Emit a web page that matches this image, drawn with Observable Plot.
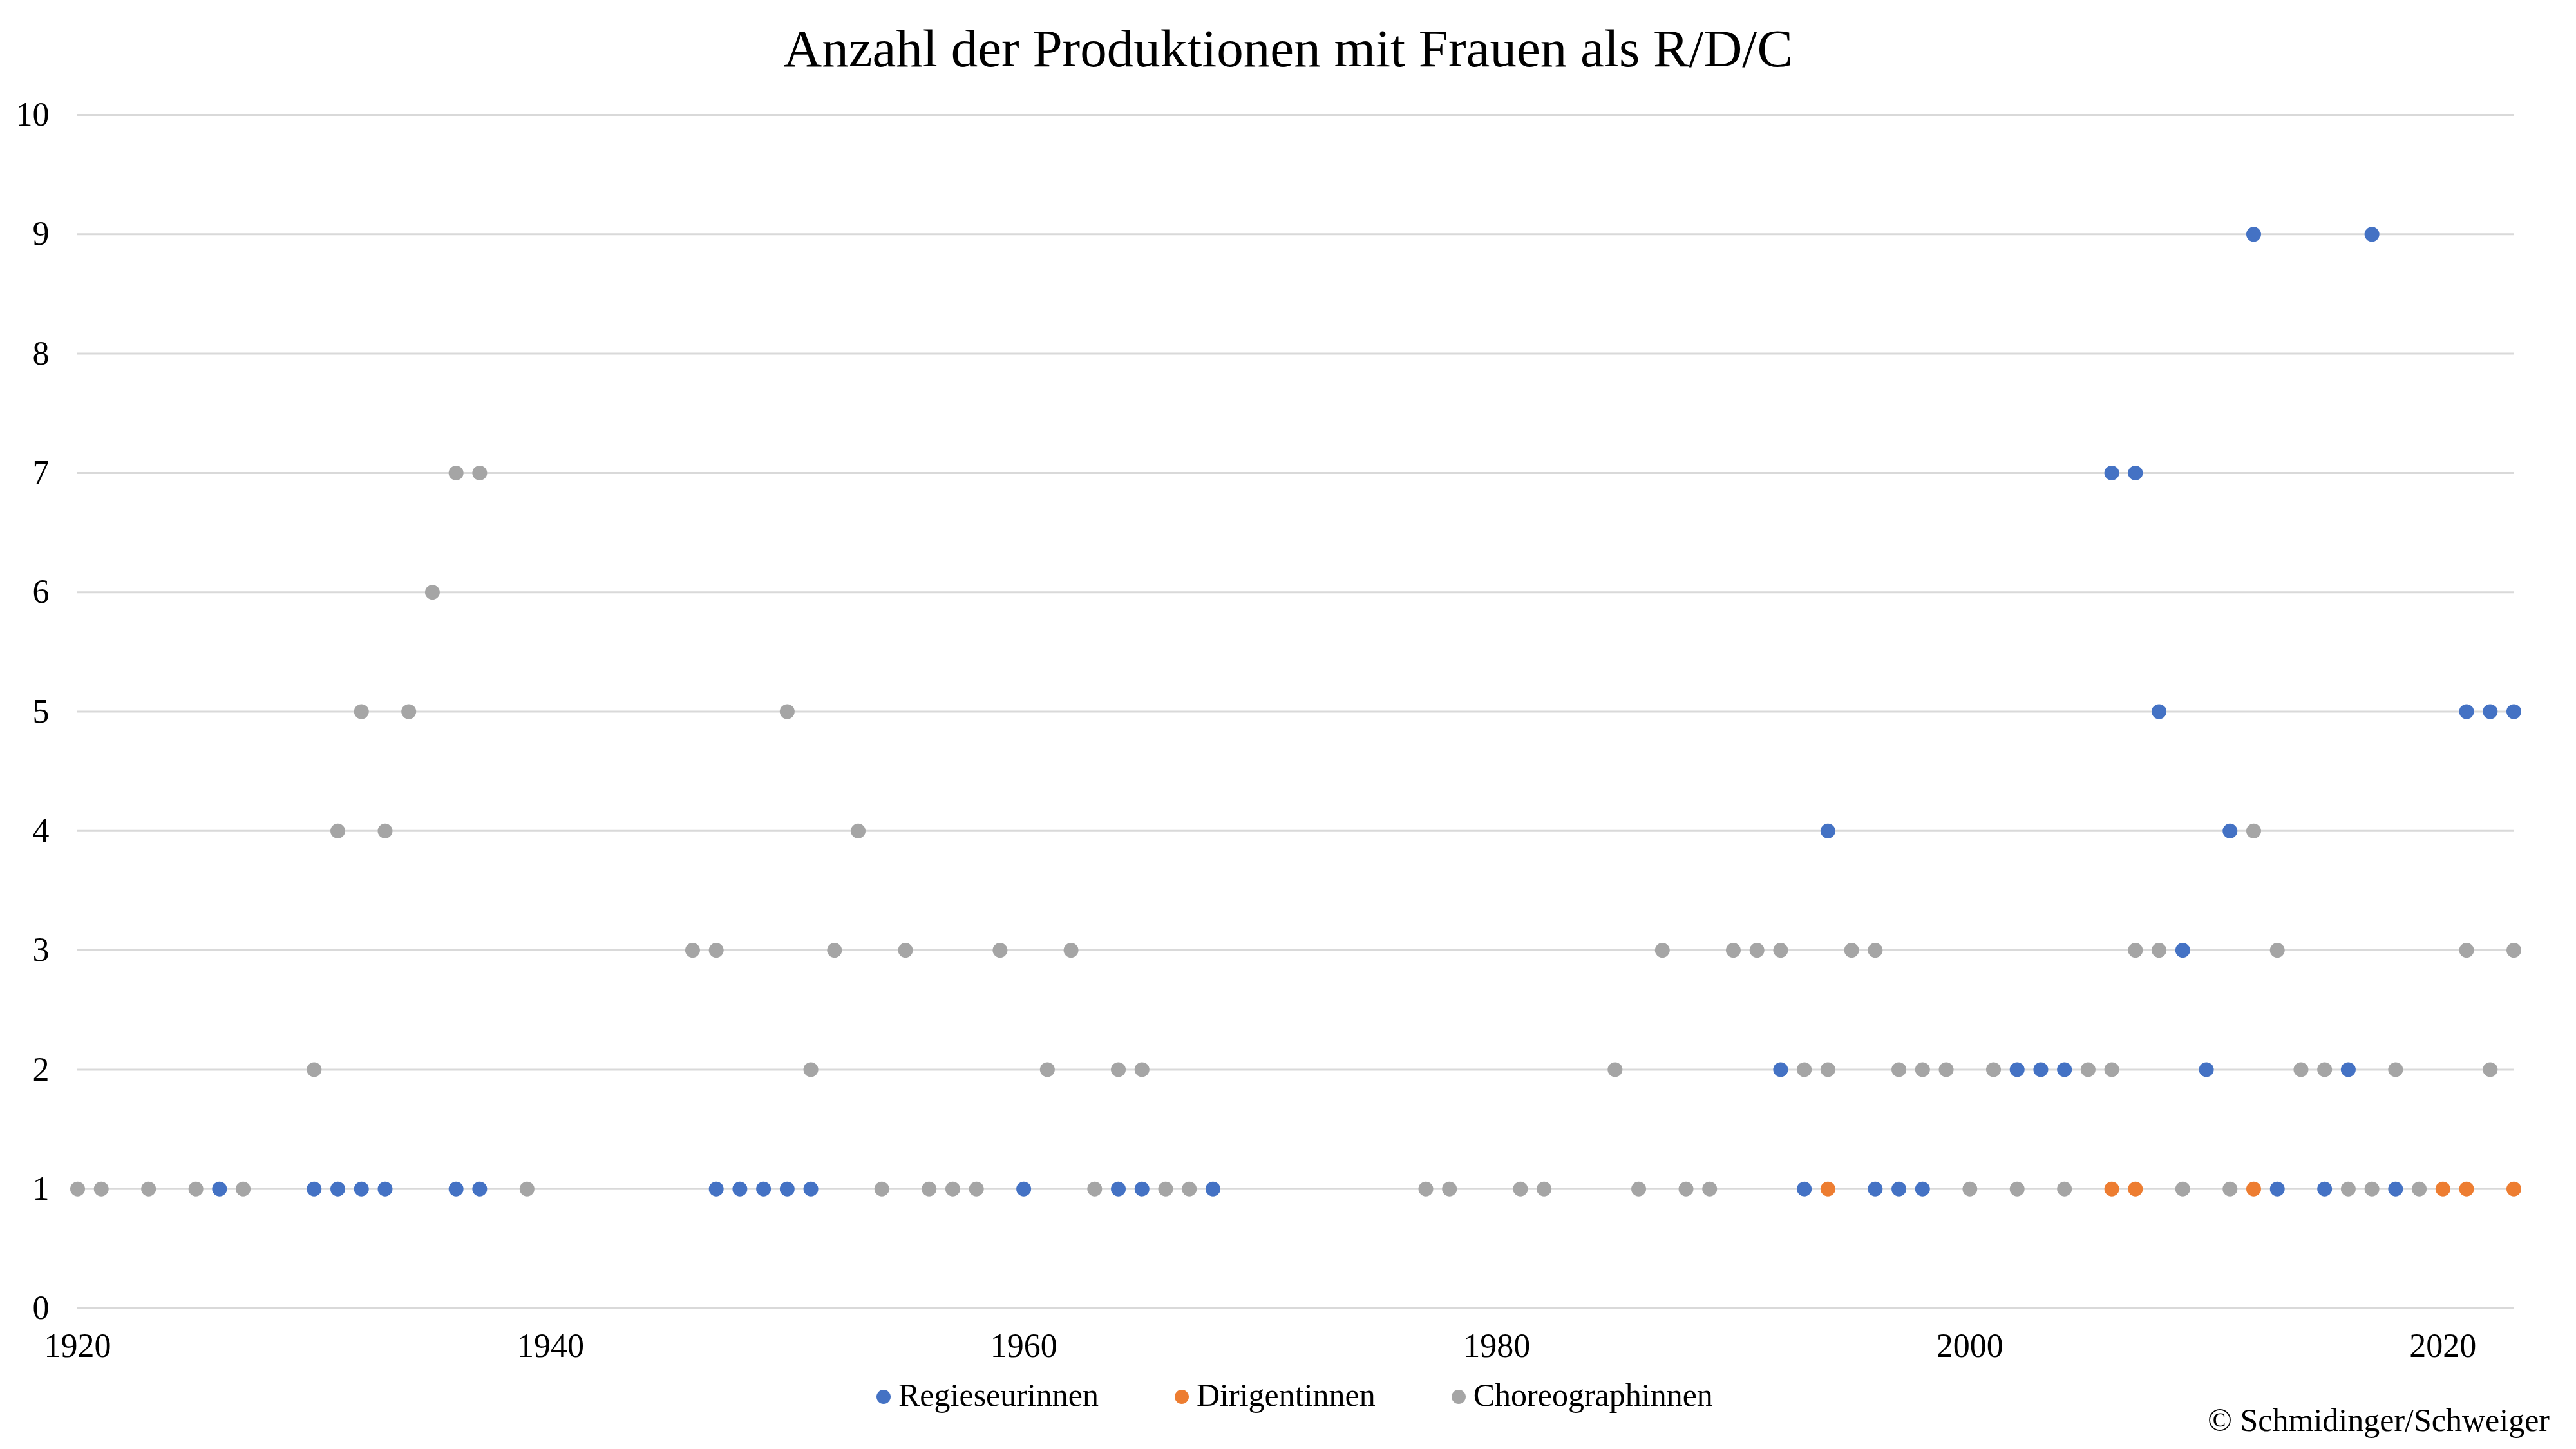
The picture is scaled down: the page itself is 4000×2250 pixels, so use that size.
<!DOCTYPE html>
<html>
<head>
<meta charset="utf-8">
<script src="https://cdn.jsdelivr.net/npm/d3@7"></script>
<script src="https://cdn.jsdelivr.net/npm/@observablehq/plot@0.6"></script>
<style>
  html, body { margin: 0; padding: 0; background: #fff; }
  #wrap { position: relative; width: 4000px; height: 2250px; background: #fff; font-family: "Liberation Serif", "Times New Roman", serif; color: #000; }
  #title { position: absolute; left: 0; width: 4000px; top: 34px; text-align: center; font-size: 83px; line-height: 1; white-space: nowrap; }
  #chart { position: absolute; left: 0; top: 130px; }
  #legend { position: absolute; left: 1361px; top: 2141px; display: flex; align-items: center; font-size: 50px; line-height: 1; white-space: nowrap; }
  .item { display: flex; align-items: center; margin-right: 118px; }
  .sw { width: 22px; height: 22px; border-radius: 50%; margin-right: 12px; margin-top: 6px; }
  #caption { position: absolute; right: 41px; top: 2180px; font-size: 50px; line-height: 1; white-space: nowrap; }
</style>
</head>
<body>
<div id="wrap">
  <div id="title"></div>
  <div id="chart"></div>
  <div id="legend"></div>
  <div id="caption"></div>
</div>
<script>
// ---- Data ----
const titel = "Anzahl der Produktionen mit Frauen als R/D/C";
const quelle = "© Schmidinger/Schweiger";
const serien = ["Regieseurinnen", "Dirigentinnen", "Choreographinnen"];
const farben = ["#4472C4", "#ED7D31", "#A5A5A5"];

const regieJahre  = [1926,1930,1931,1932,1933,1936,1937,1947,1948,1949,1950,1951,1960,1964,1965,1968,1992,1993,1994,1996,1997,1998,2002,2003,2004,2006,2007,2008,2009,2010,2011,2012,2013,2015,2016,2017,2018,2021,2022,2023];
const regieAnzahl = [1,1,1,1,1,1,1,1,1,1,1,1,1,1,1,1,2,1,4,1,1,1,2,2,2,7,7,5,3,2,4,9,1,1,2,9,1,5,5,5];

const dirigentJahre  = [1994,2006,2007,2012,2020,2021,2023];
const dirigentAnzahl = [1,1,1,1,1,1,1];

const choreoJahre  = [1920,1921,1923,1925,1927,1930,1931,1932,1933,1934,1935,1936,1937,1939,1946,1947,1950,1951,1952,1953,1954,1955,1956,1957,1958,1959,1961,1962,1963,1964,1965,1966,1967,1977,1978,1981,1982,1985,1986,1987,1988,1989,1990,1991,1992,1993,1994,1995,1996,1997,1998,1999,2000,2001,2002,2004,2005,2006,2007,2008,2009,2011,2012,2013,2014,2015,2016,2017,2018,2019,2021,2022,2023];
const choreoAnzahl = [1,1,1,1,1,2,4,5,4,5,6,7,7,1,3,3,5,2,3,4,1,3,1,1,1,3,2,3,1,2,2,1,1,1,1,1,1,2,1,3,1,1,3,3,3,2,2,3,3,2,2,2,1,2,1,1,2,2,3,3,1,1,4,3,2,2,1,1,2,1,3,2,3];

const xTicks = [1920, 1940, 1960, 1980, 2000, 2020];
const yTicks = [0,1,2,3,4,5,6,7,8,9,10];
const xDomain = [1920, 2023];
const yDomain = [0, 10];

// ---- Build table ----
const rows = [];
[[regieJahre, regieAnzahl], [dirigentJahre, dirigentAnzahl], [choreoJahre, choreoAnzahl]].forEach(([j, a], i) => {
  j.forEach((jahr, k) => rows.push({jahr, anzahl: a[k], serie: serien[i]}));
});

const chart = Plot.plot({
  width: 4000,
  height: 2010,
  marginLeft: 120,
  marginRight: 97,
  marginTop: 48,
  marginBottom: 109,
  style: {fontFamily: "'Liberation Serif', 'Times New Roman', serif", fontSize: "52px", color: "#000", background: "#fff"},
  x: {domain: xDomain, type: "linear"},
  y: {domain: yDomain},
  color: {domain: serien, range: farben},
  marks: [
    Plot.ruleY(yTicks, {stroke: "#D9D9D9", strokeWidth: 3}),
    Plot.axisY({ticks: yTicks, tickSize: 0, tickPadding: 44, label: null, fontSize: 52, tickFormat: d => String(d)}),
    Plot.axisX({ticks: xTicks, tickSize: 0, tickPadding: 39, label: null, fontSize: 52, tickFormat: d => String(d)}),
    Plot.dot(rows, {x: "jahr", y: "anzahl", fill: "serie", r: 11.5, stroke: "none"})
  ]
});
document.getElementById("chart").appendChild(chart);
document.getElementById("title").textContent = titel;
document.getElementById("caption").textContent = quelle;
const leg = document.getElementById("legend");
serien.forEach((s, i) => {
  const it = document.createElement("div");
  it.className = "item";
  const sw = document.createElement("span");
  sw.className = "sw";
  sw.style.background = farben[i];
  const t = document.createElement("span");
  t.textContent = s;
  it.appendChild(sw); it.appendChild(t);
  leg.appendChild(it);
});
</script>
</body>
</html>
